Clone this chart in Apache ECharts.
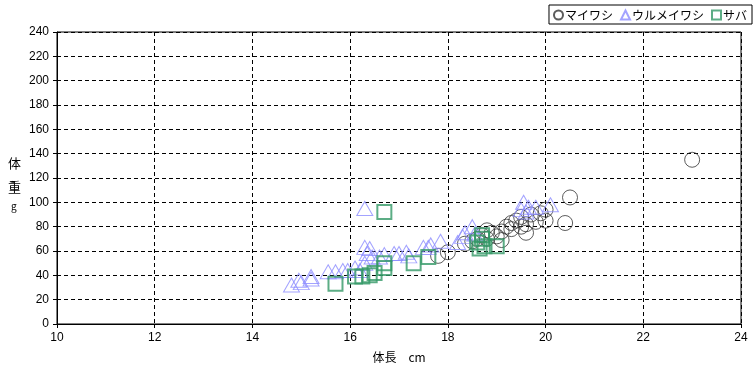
<!DOCTYPE html>
<html><head><meta charset="utf-8">
<script src="https://cdn.jsdelivr.net/npm/echarts@6/dist/echarts.min.js"></script>
<style>html,body{margin:0;padding:0;background:#fff}#c{width:756px;height:373px}</style>
</head><body><div id="c"></div>
<script>
const seriesNames = ['マイワシ', 'ウルメイワシ', 'サバ'];
const xTicks = [10, 12, 14, 16, 18, 20, 22, 24];
const yTicks = [0, 20, 40, 60, 80, 100, 120, 140, 160, 180, 200, 220, 240];
const maiwashi = [[17.8,56],[18.0,59],[18.35,66],[18.5,68],[18.6,70],[18.7,73],[18.8,77],[18.8,70],[18.9,75],[19.0,72],[19.1,69],[19.1,76],[19.2,80],[19.3,83],[19.3,78],[19.4,85],[19.5,80],[19.5,88],[19.6,75],[19.6,82],[19.7,90],[19.8,84],[19.9,91],[20.0,85],[20.0,94],[20.4,83],[20.5,104],[23.0,135]];
const urumeiwashi = [[14.8,32],[14.95,36],[15.0,34],[15.2,39],[15.2,37],[15.55,43],[15.7,43],[15.85,44],[15.95,44],[16.1,46],[16.2,44],[16.3,50],[16.3,95],[16.3,63],[16.4,62],[16.35,58],[16.45,55],[16.6,55],[16.7,57],[16.9,58],[17.0,58],[17.15,59],[17.2,56],[17.5,63],[17.6,63],[17.65,65],[17.85,68],[18.2,67],[18.3,72],[18.35,75],[18.5,80],[18.55,74],[19.5,94],[19.55,100],[19.6,92],[19.65,96],[19.8,96],[20.1,98]];
const saba = [[15.7,33],[16.1,39],[16.25,39],[16.4,40],[16.5,42],[16.7,46],[16.7,50],[16.7,92],[17.3,50],[17.6,55],[18.6,67],[18.65,62],[18.7,73],[18.7,70],[18.75,64],[19.0,64]];

const chart = echarts.init(document.getElementById('c'));
const font = "'Liberation Sans', Arial, sans-serif";
const jfont = "'Noto Sans CJK JP', sans-serif";
chart.setOption({
  animation: false,
  backgroundColor: '#fff',
  grid: {left: 57, right: 15, top: 32, bottom: 49, containLabel: false, show: true, borderColor: '#000', borderWidth: 1},
  legend: {
    right: 4, top: 5, orient: 'horizontal', itemGap: 7, itemWidth: 9, itemHeight: 9,
    padding: [4, 5, 3, 4], borderColor: '#000', borderWidth: 1,
    textStyle: {fontFamily: jfont, fontSize: 12, color: '#000', padding: [0,0,0,-3]},
    data: seriesNames
  },
  xAxis: {
    type: 'value', min: 10, max: 24, interval: 2,
    name: '体長　cm', nameLocation: 'middle', nameGap: 27,
    nameTextStyle: {fontFamily: jfont, fontSize: 12, color: '#000'},
    axisLine: {lineStyle: {color: '#000'}},
    axisTick: {show: true, length: 4, lineStyle: {color: '#000'}},
    axisLabel: {fontFamily: font, fontSize: 12, color: '#000', margin: 8,
      formatter: v => xTicks.includes(v) ? String(v) : ''},
    splitLine: {lineStyle: {color: '#000', type: [4, 3], width: 1}}
  },
  yAxis: {
    type: 'value', min: 0, max: 240, interval: 20,
    axisLine: {show: true, lineStyle: {color: '#000'}},
    axisTick: {show: true, length: 4, lineStyle: {color: '#000'}},
    axisLabel: {fontFamily: font, fontSize: 12, color: '#000', margin: 8,
      formatter: v => yTicks.includes(v) ? String(v) : ''},
    splitLine: {lineStyle: {color: '#000', type: [4, 3], width: 1}}
  },
  graphic: [
    {type: 'text', left: 8, top: 151, style: {text: '体\n重', fontFamily: jfont, fontSize: 13, lineHeight: 24, fill: '#000'}},
    {type: 'text', left: 11, top: 201, style: {text: 'g', fontFamily: jfont, fontSize: 10, fill: '#000'}}
  ],
  series: [
    {name: seriesNames[0], type: 'scatter', symbol: 'circle', symbolSize: 15, data: maiwashi,
      itemStyle: {color: 'rgba(0,0,0,0)', borderColor: '#333', borderWidth: 1}},
    {name: seriesNames[1], type: 'scatter', symbol: 'triangle', symbolSize: [16, 14], data: urumeiwashi,
      itemStyle: {color: 'rgba(0,0,0,0)', borderColor: '#8c8cff', borderWidth: 1}},
    {name: seriesNames[2], type: 'scatter', symbol: 'rect', symbolSize: 14, data: saba,
      itemStyle: {color: 'rgba(0,0,0,0)', borderColor: '#339966', borderWidth: 2}}
  ]
});
</script></body></html>
